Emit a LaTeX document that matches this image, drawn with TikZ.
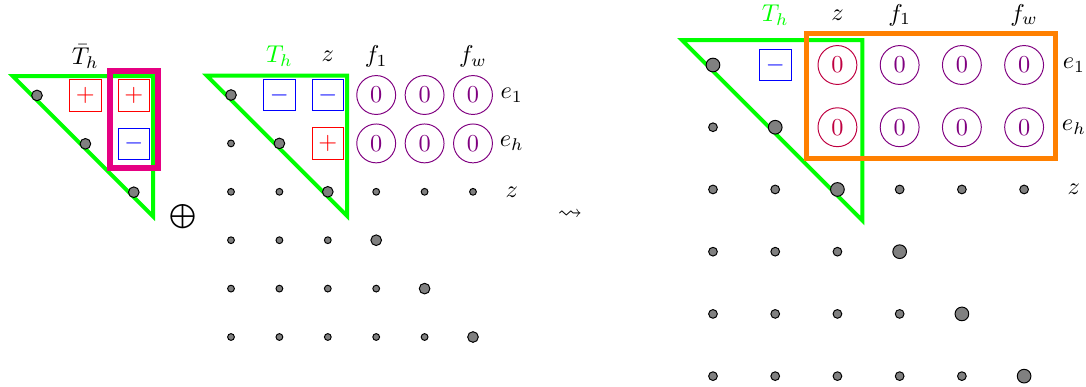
\documentclass[tikz,border=0pt]{standalone}
\usepackage{amsmath}
\usepackage{amssymb}

\definecolor{hotpink}{RGB}{230,0,130}
\tikzset{
  gdot/.style={fill=gray, draw=black, line width=0.4pt},
  plusbox/.style={draw=red, text=red, minimum size=13pt, inner sep=0pt},
  minusbox/.style={draw=blue, text=blue, minimum size=13pt, inner sep=0pt},
  zero/.style={draw=violet, text=violet, circle, minimum size=16pt, inner sep=0pt},
  tri/.style={green, line width=1.6pt},
}

\begin{document}
\begin{tikzpicture}
  \useasboundingbox (0,0) rectangle (15.707,-5.597);

  % left part
  \begin{scope}[shift={(0.535,-1.38)}, scale=0.7]
    \draw[tri] (-0.5,0.4) -- (2.4,0.4) -- (2.4,-2.5) -- cycle;
    \foreach \i in {0,1,2} \filldraw[gdot] (\i,-\i) circle (0.11);
    \node[plusbox] (L-01) at (1,0) {$+$};
    \node[plusbox] (L-02) at (2,0) {$+$};
    \node[minusbox] (L-12) at (2,-1) {$-$};
    \draw[hotpink, line width=2.5pt] (1.5,0.5) rectangle (2.5,-1.5);
    \node (L-Th) at (1,0.8) {$\bar{T}_h$};
  \end{scope}

  \node (oplus) at (2.647,-3.138) {$\bigoplus$};

  % middle part
  \begin{scope}[shift={(3.341,-1.374)}, scale=0.7]
    \draw[tri] (-0.5,0.4) -- (2.4,0.4) -- (2.4,-2.5) -- cycle;
    \foreach \i in {0,...,5} \filldraw[gdot] (\i,-\i) circle (0.11);
    \foreach \r [evaluate=\r as \m using int(\r-1)] in {1,...,5}
      \foreach \c in {0,...,\m} \filldraw[gdot] (\c,-\r) circle (0.07);
    \foreach \c in {3,4,5} \filldraw[gdot] (\c,-2) circle (0.07);
    \node[minusbox] (M-01) at (1,0) {$-$};
    \node[minusbox] (M-02) at (2,0) {$-$};
    \node[plusbox] (M-12) at (2,-1) {$+$};
    \foreach \c in {3,4,5}
      \foreach \r in {0,1} \node[zero] (M-\r\c) at (\c,-\r) {$0$};
    \node[green] (M-Th) at (1,0.8) {$T_h$};
    \node (M-z) at (2,0.8) {$z$};
    \node (M-f1) at (3,0.8) {$f_1$};
    \node (M-fw) at (5,0.8) {$f_w$};
    \node (M-e1) at (5.8,0) {$e_1$};
    \node (M-eh) at (5.8,-1) {$e_h$};
    \node (M-ez) at (5.8,-2) {$z$};
  \end{scope}

  \node (leads) at (8.244,-3.110) {$\leadsto$};

  % right part
  \begin{scope}[shift={(10.312,-0.94)}, scale=0.9]
    \draw[tri] (-0.5,0.4) -- (2.4,0.4) -- (2.4,-2.5) -- cycle;
    \foreach \i in {0,...,5} \filldraw[gdot] (\i,-\i) circle (0.11);
    \foreach \r [evaluate=\r as \m using int(\r-1)] in {1,...,5}
      \foreach \c in {0,...,\m} \filldraw[gdot] (\c,-\r) circle (0.07);
    \foreach \c in {3,4,5} \filldraw[gdot] (\c,-2) circle (0.07);
    \node[minusbox] (R-01) at (1,0) {$-$};
    \foreach \r in {0,1} \node[zero, draw=purple, text=purple] (R-\r2) at (2,-\r) {$0$};
    \foreach \c in {3,4,5}
      \foreach \r in {0,1} \node[zero] (R-\r\c) at (\c,-\r) {$0$};
    \draw[orange, line width=2pt] (1.5,0.5) rectangle (5.5,-1.5);
    \node[green] (R-Th) at (1,0.8) {$T_h$};
    \node (R-z) at (2,0.8) {$z$};
    \node (R-f1) at (3,0.8) {$f_1$};
    \node (R-fw) at (5,0.8) {$f_w$};
    \node (R-e1) at (5.8,0) {$e_1$};
    \node (R-eh) at (5.8,-1) {$e_h$};
    \node (R-ez) at (5.8,-2) {$z$};
  \end{scope}
\end{tikzpicture}
\end{document}
